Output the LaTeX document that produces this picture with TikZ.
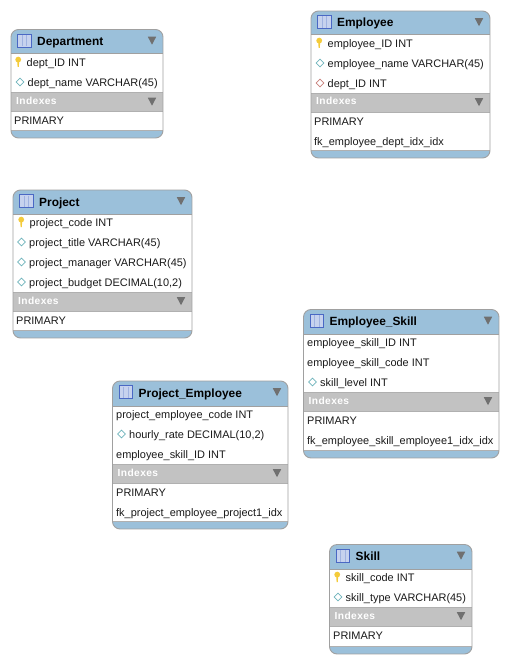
\documentclass[tikz,border=0pt]{standalone}
\usepackage{fontspec}
\setmainfont{Liberation Sans}
\newfontfamily\idxfont[LetterSpace=4]{Liberation Sans}
\definecolor{hdblue}{HTML}{9BC0DA}
\definecolor{idxgray}{HTML}{C2C2C2}
\definecolor{edgegray}{HTML}{A0A0A0}
\definecolor{sepgray}{HTML}{B0B0B0}
\definecolor{tridark}{HTML}{707070}
\definecolor{keyyellow}{HTML}{F4CB3A}
\definecolor{diateal}{HTML}{6FB4BC}
\definecolor{diared}{HTML}{C8807A}
\definecolor{iconblue}{HTML}{4A68C4}
\definecolor{iconfill}{HTML}{C6D2EE}
\definecolor{iconline}{HTML}{9FB2E0}
\definecolor{txt}{HTML}{1A1A1A}
\tikzset{
  tablebox/.style={rounded corners=7.5pt,draw=edgegray,line width=0.9pt},
  titletext/.style={anchor=base west,inner sep=0pt,font=\fontsize{11.9}{13}\selectfont\bfseries,text=black},
  rowtext/.style={anchor=base west,inner sep=0pt,font=\fontsize{10.95}{12}\selectfont,text=txt},
  idxtext/.style={anchor=base west,inner sep=0pt,font=\idxfont\fontsize{10.2}{12}\selectfont\bfseries,text=white},
  tri/.style={fill=tridark,draw=none},
  diamondmark/.style={draw=#1,fill=white,line width=0.7pt},
}
% name, title, x0, x1, ytop, ybottom, yhead, yidx
\newcommand{\erdtable}[8]{%
  \begin{scope}
    \clip[rounded corners=7.5pt] (#3,#5) rectangle (#4,#6);
    \fill[hdblue] (#3,#5) rectangle (#4,#6);
    \fill[white] (#3,#7) rectangle (#4,#6-8);
    \fill[idxgray] (#3,#8) rectangle (#4,#8+19);
    \draw[sepgray,line width=0.6pt] (#3,#8) -- (#4,#8) (#3,#8+19) -- (#4,#8+19) (#3,#6-8) -- (#4,#6-8);
    \draw[edgegray,line width=0.4pt] (#3,#7) -- (#4,#7);
  \end{scope}
  \draw[tablebox] (#3,#5) rectangle (#4,#6);
  % table icon
  \draw[iconblue,fill=iconfill,line width=0.9pt] (#3+6.5,#5+4.8) rectangle (#3+20,#5+17.5);
  \draw[iconline,line width=0.6pt] (#3+11,#5+5.5) -- (#3+11,#5+17) (#3+15.5,#5+5.5) -- (#3+15.5,#5+17);
  \node[titletext] (#1) at (#3+26,#5+16) {#2};
  \fill[tri] (#4-15.2,#5+7.2) -- (#4-6.8,#5+7.2) -- (#4-11,#5+15.2) -- cycle;
  \node[idxtext] (#1idx) at (#3+5,#8+12) {Indexes};
  \fill[tri] (#4-15.2,#8+5.2) -- (#4-6.8,#8+5.2) -- (#4-11,#8+13.2) -- cycle;
}
% node name, x, ycentre, text
\newcommand{\erdrow}[4]{\node[rowtext] (#1) at (#2,#3+4.1) {#4};}
\newcommand{\keyrow}[4]{%
  \fill[keyyellow] (#2+4.2,#3-2.4) circle (2.9);
  \fill[keyyellow] (#2+3.2,#3-1) -- (#2+5.2,#3-1) -- (#2+4.8,#3+5) -- (#2+3.6,#3+5) -- cycle;
  \erdrow{#1}{#2+12.5}{#3}{#4}}
\newcommand{\diarow}[5][diateal]{%
  \draw[diamondmark=#1] (#3+0.2,#4) -- (#3+4,#4-3.8) -- (#3+7.8,#4) -- (#3+4,#4+3.8) -- cycle;
  \erdrow{#2}{#3+11.5}{#4}{#5}}
\begin{document}
\begin{tikzpicture}[x=1pt,y=-1pt]
\useasboundingbox[fill=white] (0,0) rectangle (509,663);
% Department
\erdtable{dep}{Department}{11}{163}{29.5}{138}{53}{92.5}
\keyrow{dep1}{14}{62}{dept\_ID INT}
\diarow{dep2}{16}{82}{dept\_name VARCHAR(45)}
\erdrow{dep3}{14}{120}{PRIMARY}
% Employee
\erdtable{emp}{Employee}{311}{490}{11}{158}{34.5}{93}
\keyrow{emp1}{315}{43}{employee\_ID INT}
\diarow{emp2}{316}{63}{employee\_name VARCHAR(45)}
\diarow[diared]{emp3}{316}{83}{dept\_ID INT}
\erdrow{emp4}{314}{121}{PRIMARY}
\erdrow{emp5}{314}{141}{fk\_employee\_dept\_idx\_idx}
% Project
\erdtable{prj}{Project}{13}{192}{190}{338}{214}{292}
\keyrow{prj1}{17}{222}{project\_code INT}
\diarow{prj2}{17.5}{242}{project\_title VARCHAR(45)}
\diarow{prj3}{17.5}{262}{project\_manager VARCHAR(45)}
\diarow{prj4}{17.5}{282}{project\_budget DECIMAL(10,2)}
\erdrow{prj5}{16}{320}{PRIMARY}
% Project_Employee
\erdtable{pe}{Project\_Employee}{112.5}{288}{381}{529}{406}{464}
\erdrow{pe1}{116}{414}{project\_employee\_code INT}
\diarow{pe2}{117.5}{434}{hourly\_rate DECIMAL(10,2)}
\erdrow{pe3}{116}{454}{employee\_skill\_ID INT}
\erdrow{pe4}{116}{492}{PRIMARY}
\erdrow{pe5}{116}{512}{fk\_project\_employee\_project1\_idx}
% Employee_Skill
\erdtable{es}{Employee\_Skill}{303.5}{499}{309.5}{458}{334}{392}
\erdrow{es1}{307}{342}{employee\_skill\_ID INT}
\erdrow{es2}{307}{362}{employee\_skill\_code INT}
\diarow{es3}{308.5}{382}{skill\_level INT}
\erdrow{es4}{307}{420}{PRIMARY}
\erdrow{es5}{307}{440}{fk\_employee\_skill\_employee1\_idx\_idx}
% Skill
\erdtable{sk}{Skill}{329.5}{472}{544.5}{654}{569}{607}
\keyrow{sk1}{333}{577}{skill\_code INT}
\diarow{sk2}{334}{597}{skill\_type VARCHAR(45)}
\erdrow{sk3}{333}{635}{PRIMARY}
\end{tikzpicture}
\end{document}
